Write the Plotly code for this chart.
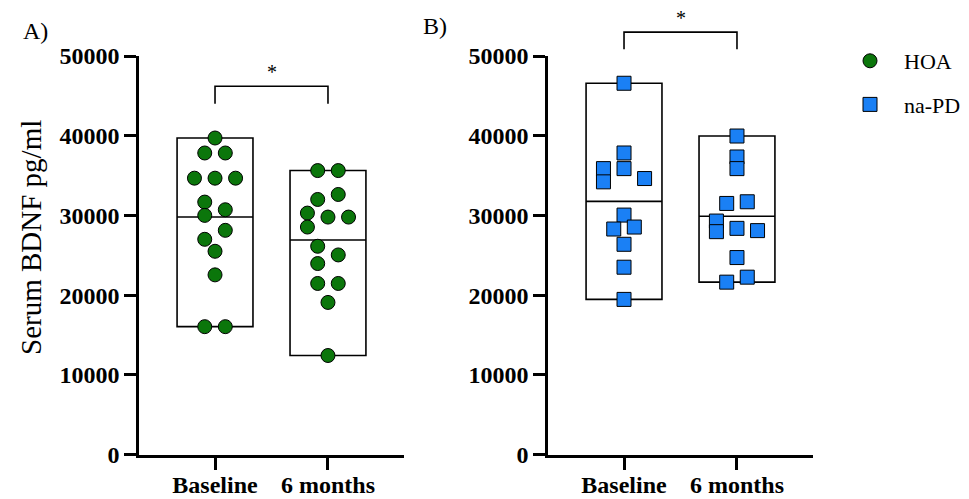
import plotly.graph_objects as go

# ---------------- data ----------------
categories = ["Baseline", "6 months"]

hoa_baseline = [39710, 37830, 37830, 34670, 34670, 34670, 31670, 30710, 30000,
                28125, 27000, 25500, 22540, 16040, 16040]
hoa_6months = [35625, 35625, 32625, 32000, 30290, 29790, 29790, 28540, 26125,
               25040, 23960, 21460, 21460, 19080, 12420]
napd_baseline = [46580, 37830, 35870, 35870, 34210, 34625, 30040, 28290, 28540,
                 26375, 23500, 19460]
napd_6months = [39960, 37330, 35870, 31500, 31710, 29290, 27960, 28375, 28090,
                24710, 21625, 22250]

# swarm column slots (beeswarm arrangement)
hoa_baseline_slot = [0, -1, 1, -2, 0, 2, -1, 1, -1, 1, -1, 0, 0, -1, 1]
hoa_6months_slot = [-1, 1, 1, -1, -2, 0, 2, -2, -1, 1, -1, -1, 1, 0, 0]
napd_baseline_slot = [0, 0, 0, -2, -2, 2, 0, -1, 1, 0, 0, 0]
napd_6months_slot = [0, 0, 0, -1, 1, -2, -2, 0, 2, 0, -1, 1]

y_ticks = [0, 10000, 20000, 30000, 40000, 50000]
y_max = 50000

# ---------------- style ----------------
FONT = "Liberation Serif"
GREEN = "#0b760b"
BLUE = "#1a80f5"
SLOT = 0.091      # x offset per swarm slot (category units)
HALF_BOX = 0.336  # half width of the min-max box

# the page body has an 8px margin; the figure is sized to fit the window
W, H, OFF = 961, 491, 8


def px(x):
    return (x - OFF) / W


def py(y):
    return 1 - (y - OFF) / H


fig = go.Figure()


def add_group(xaxis, yaxis, vals, slots, ci, name, color, symbol, show):
    fig.add_trace(go.Scatter(
        x=[ci + s * SLOT for s in slots], y=vals,
        mode="markers", name=name, legendgroup=name, showlegend=show,
        marker=dict(symbol=symbol, size=14, color=color,
                    line=dict(color="black", width=1)),
        xaxis=xaxis, yaxis=yaxis, cliponaxis=False,
    ))
    lo, hi = min(vals), max(vals)
    mean = sum(vals) / len(vals)
    fig.add_shape(type="rect", xref=xaxis, yref=yaxis,
                  x0=ci - HALF_BOX, x1=ci + HALF_BOX, y0=lo, y1=hi,
                  line=dict(color="black", width=1.6), layer="below")
    fig.add_shape(type="line", xref=xaxis, yref=yaxis,
                  x0=ci - HALF_BOX, x1=ci + HALF_BOX, y0=mean, y1=mean,
                  line=dict(color="black", width=1.6), layer="below")


add_group("x", "y", hoa_baseline, hoa_baseline_slot, 0, "HOA", GREEN, "circle", True)
add_group("x", "y", hoa_6months, hoa_6months_slot, 1, "HOA", GREEN, "circle", False)
add_group("x2", "y2", napd_baseline, napd_baseline_slot, 0, "na-PD", BLUE, "square", True)
add_group("x2", "y2", napd_6months, napd_6months_slot, 1, "na-PD", BLUE, "square", False)


def add_bracket(xaxis, yaxis, top, bottom):
    yd = yaxis + " domain"
    t, b = top / y_max, bottom / y_max
    fig.add_shape(type="path", xref=xaxis, yref=yd,
                  path=f"M 0,{b} L 0,{t} L 1,{t} L 1,{b}",
                  line=dict(color="black", width=1.6))
    fig.add_annotation(xref=xaxis, yref=yd, x=0.5, y=t, text="*",
                       showarrow=False, yanchor="bottom", yshift=1,
                       font=dict(family=FONT, size=20, color="black"))


add_bracket("x", "y", 46200, 44000)
add_bracket("x2", "y2", 53000, 50850)

axis_common = dict(
    showline=True, linecolor="black", linewidth=2.5, mirror=False,
    ticks="outside", tickwidth=2.5, tickcolor="black",
    showgrid=False, zeroline=False, automargin=False,
    tickfont=dict(family=FONT, size=24, color="black", weight="bold"),
)
xcommon = dict(axis_common, tickvals=[0, 1], ticktext=categories,
               range=[-0.673, 1.673], ticklen=13, ticklabelstandoff=-6)
ycommon = dict(axis_common, tickvals=y_ticks, tickformat="d",
               range=[0, y_max], ticklen=12)

DOM_Y = [py(454.5), py(56)]

fig.update_layout(
    template="none",
    width=W, height=H,
    margin=dict(l=0, r=0, t=0, b=0, pad=0),
    paper_bgcolor="white", plot_bgcolor="white",
    xaxis=dict(xcommon, domain=[px(139), px(404)], anchor="y"),
    yaxis=dict(ycommon, domain=DOM_Y, anchor="x"),
    xaxis2=dict(xcommon, domain=[px(548), px(813)], anchor="y2"),
    yaxis2=dict(ycommon, domain=DOM_Y, anchor="x2"),
    legend=dict(x=px(836), y=py(40), xanchor="left", yanchor="top",
                font=dict(family=FONT, size=22, color="black"),
                traceorder="grouped", tracegroupgap=12,
                bgcolor="rgba(0,0,0,0)", borderwidth=0, itemwidth=58),
    showlegend=True,
)

# y-axis title of panel A
fig.add_annotation(xref="paper", yref="paper", x=px(31), y=py(238),
                   text="Serum BDNF pg/ml", textangle=-90, showarrow=False,
                   xanchor="center", yanchor="middle",
                   font=dict(family=FONT, size=29, color="black"))

fig.add_annotation(xref="paper", yref="paper", x=px(21), y=py(31),
                   text="A)", showarrow=False, xanchor="left", yanchor="middle",
                   font=dict(family=FONT, size=24, color="black"))
fig.add_annotation(xref="paper", yref="paper", x=px(421), y=py(26),
                   text="B)", showarrow=False, xanchor="left", yanchor="middle",
                   font=dict(family=FONT, size=24, color="black"))

fig.write_html("out.html")
